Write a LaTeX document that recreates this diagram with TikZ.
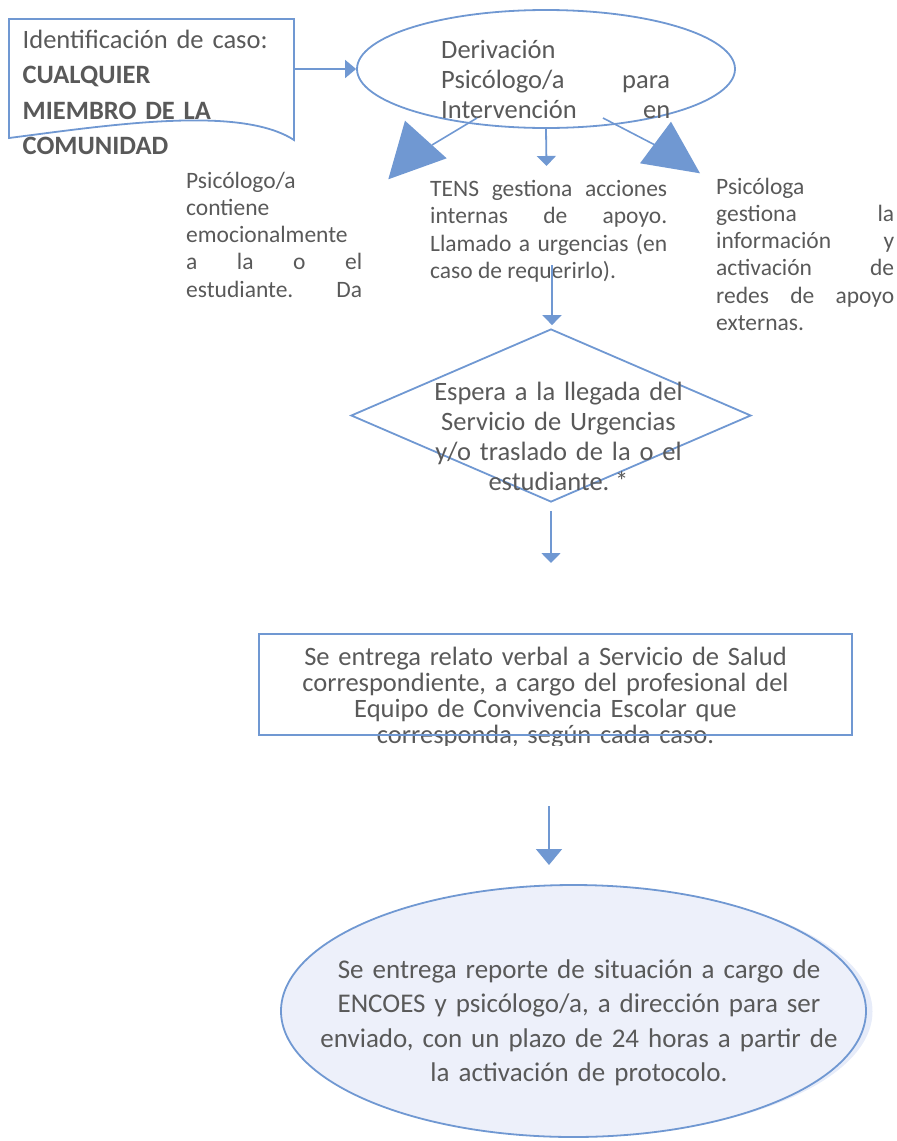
\documentclass[tikz,border=0pt]{standalone}
\usepackage{fontspec}
\setmainfont{Carlito}
\usetikzlibrary{shapes.geometric,arrows.meta}
\definecolor{lineblue}{RGB}{112,152,210}
\definecolor{txtgray}{RGB}{89,89,89}
\definecolor{ovalfill}{RGB}{237,240,250}
\definecolor{ovalshadow}{RGB}{231,236,249}
\hyphenpenalty=10000
\tolerance=10000
\hbadness=10000
\begin{document}
\begin{tikzpicture}[x=1pt,y=-1pt,
  shapeline/.style={draw=lineblue,line width=1.8pt},
  thinline/.style={draw=lineblue,line width=1.6pt},
  arr/.style={draw=lineblue,line width=1.8pt,-{Triangle[length=10pt,width=19pt]}},
  bigarr/.style={draw=lineblue,line width=1.8pt,-{Triangle[length=16pt,width=26pt]}},
  bigtext/.style={text=txtgray,inner sep=0pt,font=\fontsize{26.5}{30}\selectfont},
  smalltext/.style={text=txtgray,inner sep=0pt,align=justify,font=\fontsize{23.5}{27.3}\selectfont},
]
\useasboundingbox (0,0) rectangle (897,1141);

% --- document shape (top left)
\node[minimum width=285pt,minimum height=121pt,inner sep=0pt,anchor=north west] (doc) at (9,19) {};
\draw[shapeline] (294,140) .. controls (240,105) and (110,125) .. (9,138) -- (9,19) -- (294,19) -- cycle;
\node[anchor=base west,text width=280pt,align=left,text=txtgray,inner sep=0pt,
      font=\fontsize{26.5}{35.5}\selectfont] (doctext) at (22.5,48.3)
  {Identificación de caso:\\ \textbf{CUALQUIER}\\ \textbf{MIEMBRO DE LA}\\ \textbf{COMUNIDAD}};

% --- top ellipse
\node[ellipse,shapeline,minimum width=378pt,minimum height=118pt,inner sep=0pt] (ell1) at (546,69) {};
\node[anchor=base west,text width=229pt,bigtext,align=justify] (ell1text) at (441,58.3)
  {\parfillskip=0pt Derivación\linebreak Psicólogo/a~para\linebreak Intervención~en\par};

\draw[arr,-{Triangle[length=11pt,width=18pt]}] (ell1.west -| doc.east) -- (ell1.west);

% --- three branches
\coordinate (l1s) at (477,118);
\coordinate (l1e) at (432,145);
\draw[thinline] (l1s) -- (l1e);
\fill[lineblue] (405,120.7) -- (446.7,158.3) -- (388.3,179.3) -- cycle;

\coordinate (m1) at (546.5,166);
\draw[arr] (ell1.south) -- (m1);

\coordinate (r1s) at (603,118);
\coordinate (r1e) at (655,145);
\draw[thinline] (r1s) -- (r1e);
\fill[lineblue] (671,121.7) -- (700,173.3) -- (640,163.3) -- cycle;

% --- three text blocks
\node[anchor=base west,text width=176pt,smalltext] (tleft) at (186,188)
  {\parfillskip=0pt Psicólogo/a\linebreak contiene\linebreak emocionalmente\linebreak a~la~o~el\linebreak estudiante.~Da\par};
\node[anchor=base west,text width=237pt,smalltext,font=\fontsize{23.5}{27.2}\selectfont] (tmid) at (430,196.7)
  {TENS~gestiona~acciones\linebreak internas~de~apoyo.\linebreak Llamado~a~urgencias~(en\linebreak caso de requerirlo).};
\node[anchor=base west,text width=178pt,smalltext] (tright) at (716,194)
  {Psicóloga\linebreak gestiona~la\linebreak información~y\linebreak activación~de\linebreak redes~de~apoyo\linebreak externas.};

% --- diamond
\node[diamond,shapeline,minimum width=400pt,minimum height=173pt,inner sep=0pt] (dia) at (551,415.5) {};
\node[anchor=base,text width=320pt,align=center,bigtext] (diatext) at (558.5,400.7)
  {Espera a la llegada del\\ Servicio de Urgencias\\ y/o traslado de la o el\\ estudiante.\kern-3pt\ *};
\coordinate (c2) at (552,265);
\draw[arr,shorten >=3pt] (c2) -- (c2 |- dia.north);
\coordinate (a3) at (551,563);
\draw[arr,shorten <=8pt] (dia.south) -- (a3);

% --- rectangle
\begin{scope}
  \clip (0,0) rectangle (897,745);
  \node[anchor=base,text width=560pt,align=center,bigtext,font=\fontsize{26.5}{26}\selectfont] (recttext) at (545.5,665)
    {Se entrega relato verbal a Servicio de Salud\\ correspondiente, a cargo del profesional del\\ Equipo de Convivencia Escolar que\\ corresponda, según cada caso.};
\end{scope}
\node[draw=lineblue,line width=2.6pt,minimum width=593pt,minimum height=101pt,inner sep=0pt] (rect) at (555.5,684.5) {};
\coordinate (a4s) at (549,806);
\coordinate (a4e) at (549,865);
\draw[bigarr] (a4s) -- (a4e);

% --- bottom ellipse
\node[ellipse,fill=ovalshadow,minimum width=590pt,minimum height=250pt,inner sep=0pt] (ell2shadow) at (577.5,1011.5) {};
\node[ellipse,shapeline,fill=ovalfill,minimum width=585pt,minimum height=252pt,inner sep=0pt] (ell2) at (573.5,1011) {};
\node[anchor=base,text width=540pt,align=center,text=txtgray,inner sep=0pt,font=\fontsize{27}{34.6}\selectfont] (ell2text) at (579,978)
  {Se entrega reporte de situación a cargo de\\ ENCOES y psicólogo/a, a dirección para ser\\ enviado, con un plazo de 24 horas a partir de\\ la activación de protocolo.};
\end{tikzpicture}
\end{document}
